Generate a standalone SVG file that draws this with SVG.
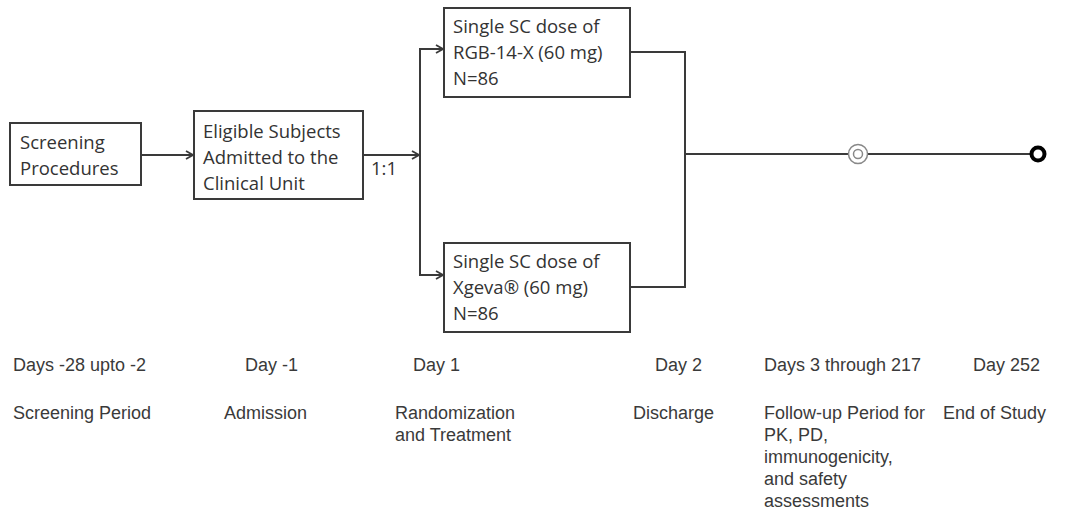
<svg xmlns="http://www.w3.org/2000/svg" width="1079" height="514" viewBox="0 0 1079 514">
<style>
.box{fill:#fff;stroke:#3a3a3a;stroke-width:2}
.bt{font-family:"Open Sans","Liberation Sans",sans-serif;font-size:18.5px;fill:#333}
.lb{font-family:"Liberation Sans",Arial,sans-serif;font-size:18px;fill:#3a3a3a}
.ln{fill:none;stroke:#3a3a3a;stroke-width:2}
</style>
<defs>
<marker id="ah" viewBox="0 0 10 10" refX="9" refY="5" markerWidth="10" markerHeight="10" markerUnits="userSpaceOnUse" orient="auto">
<path d="M2,1 L9,5 L2,9" fill="none" stroke="#3a3a3a" stroke-width="1.8"/>
</marker>
</defs>
<rect width="1079" height="514" fill="#fff"/>
<g id="connectors">
<line class="ln" x1="142" y1="155" x2="193" y2="155" marker-end="url(#ah)"/>
<line class="ln" x1="363" y1="155" x2="419" y2="155" marker-end="url(#ah)"/>
<line class="ln" x1="420" y1="49" x2="420" y2="275"/>
<line class="ln" x1="419" y1="49" x2="443" y2="49" marker-end="url(#ah)"/>
<line class="ln" x1="419" y1="275" x2="443" y2="275" marker-end="url(#ah)"/>
<polyline class="ln" points="630,52 685,52 685,287 630,287"/>
<line class="ln" x1="685" y1="154" x2="1032" y2="154"/>
<text class="bt" x="371" y="175">1:1</text>
</g>
<g id="screening">
<rect class="box" x="10" y="123" width="131" height="62"/>
<text class="bt" x="20" y="149">Screening</text>
<text class="bt" x="20" y="175">Procedures</text>
</g>
<g id="eligible">
<rect class="box" x="194" y="111" width="169" height="88"/>
<text class="bt" x="203" y="138">Eligible Subjects</text>
<text class="bt" x="203" y="164">Admitted to the</text>
<text class="bt" x="203" y="190">Clinical Unit</text>
</g>
<g id="rgb">
<rect class="box" x="444" y="8" width="186" height="89"/>
<text class="bt" x="453" y="33">Single SC dose of</text>
<text class="bt" x="453" y="59">RGB-14-X (60 mg)</text>
<text class="bt" x="453" y="85">N=86</text>
</g>
<g id="xgeva">
<rect class="box" x="444" y="243" width="186" height="89"/>
<text class="bt" x="453" y="268">Single SC dose of</text>
<text class="bt" x="453" y="294">Xgeva® (60 mg)</text>
<text class="bt" x="453" y="320">N=86</text>
</g>
<g id="followup-marker">
<circle cx="858" cy="154" r="9.5" fill="#fff" stroke="#888" stroke-width="1.5"/>
<circle cx="858" cy="154" r="4.5" fill="#fff" stroke="#888" stroke-width="1.5"/>
</g>
<g id="end-marker">
<circle cx="1038" cy="154" r="6.5" fill="#fff" stroke="#000" stroke-width="4"/>
</g>
<g id="timeline-labels">
<text class="lb" x="13" y="371">Days -28 upto -2</text>
<text class="lb" x="245" y="371">Day -1</text>
<text class="lb" x="413" y="371">Day 1</text>
<text class="lb" x="655" y="371">Day 2</text>
<text class="lb" x="764" y="371">Days 3 through 217</text>
<text class="lb" x="973" y="371">Day 252</text>
<text class="lb" x="13" y="419">Screening Period</text>
<text class="lb" x="224" y="419">Admission</text>
<text class="lb" x="395" y="419">Randomization</text>
<text class="lb" x="395" y="441">and Treatment</text>
<text class="lb" x="633" y="419">Discharge</text>
<text class="lb" x="764" y="419">Follow-up Period for</text>
<text class="lb" x="764" y="441">PK, PD,</text>
<text class="lb" x="764" y="463">immunogenicity,</text>
<text class="lb" x="764" y="485">and safety</text>
<text class="lb" x="764" y="507">assessments</text>
<text class="lb" x="943" y="419">End of Study</text>
</g>
</svg>
